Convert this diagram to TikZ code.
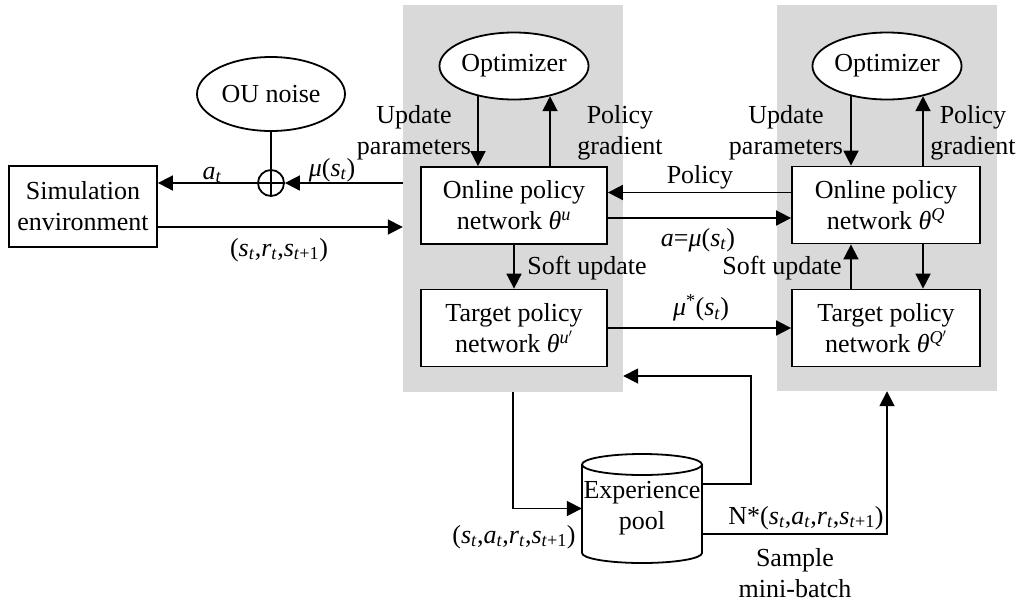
\documentclass[tikz,border=0pt]{standalone}
\usepackage{fontspec}
\IfFontExistsTF{LiberationSerif-Regular.ttf}{%
  \setmainfont{LiberationSerif-Regular.ttf}[ItalicFont=LiberationSerif-Italic.ttf, BoldFont=LiberationSerif-Bold.ttf, BoldItalicFont=LiberationSerif-BoldItalic.ttf]}{%
  \setmainfont{Liberation Serif}}
\usetikzlibrary{arrows.meta,shapes.geometric}
\definecolor{panelgray}{RGB}{217,217,217}
\newcommand\mi[1]{\textit{#1}}
\newcommand\sbs[1]{\textsubscript{#1}}
\begin{document}
\begin{tikzpicture}[x=1pt,y=-1pt,
  every node/.style={font=\rmfamily\fontsize{26}{31}\selectfont, inner sep=0pt},
  ln/.style={line width=1.8pt},
  arr/.style={ln,-{Triangle[length=15pt,width=15pt]}},
  panel/.style={fill=panelgray, minimum width=220pt},
  netbox/.style={draw, line width=1.8pt, fill=white, minimum width=186pt, minimum height=77pt, align=center},
  oval/.style={ellipse, draw, line width=1.8pt, fill=white},
  lbl/.style={align=center}]
\useasboundingbox (0,0) rectangle (1019,603);
% panels
\node[panel, minimum height=387pt] (pL) at (513,198.5) {};
\node[panel, minimum height=386pt] (pR) at (887,198) {};
% ellipses
\node[oval, minimum width=146pt, minimum height=67pt] (optL) at (514,66) {Optimizer};
\node[oval, minimum width=146pt, minimum height=67pt] (optR) at (887,66) {Optimizer};
\node[oval, minimum width=148pt, minimum height=74pt] (ou) at (271,94) {OU noise};
% boxes
\node[netbox] (onL) at (514,205.5) {Online policy\\network \mi{θ}\textsuperscript{\mi{u}}};
\node[netbox] (tgL) at (514,328) {Target policy\\network \mi{θ}\textsuperscript{\mi{u}$'$}};
\node[netbox, minimum width=188pt] (onR) at (886,205) {Online policy\\network \mi{θ}\textsuperscript{\mi{Q}}};
\node[netbox, minimum width=188pt] (tgR) at (886,328) {Target policy\\network \mi{θ}\textsuperscript{\mi{Q}$'$}};
\node[netbox, minimum width=148pt, minimum height=81pt] (sim) at (83,206.5) {Simulation\\environment};
% plus circle
\node[circle, draw, ln, minimum size=26pt] (plus) at (271,183) {};
\draw[ln] (plus.north) -- (plus.south);
\draw[ln] (plus.west) -- (plus.east);
% experience pool cylinder
\draw[ln, fill=white] (582,464.5) -- (582,553) arc[start angle=180, end angle=360, x radius=60pt, y radius=10pt] -- (702,464.5);
\draw[ln, fill=white] (642,464.5) ellipse[x radius=60pt, y radius=10.5pt];
\node[lbl, minimum width=120pt, minimum height=109pt] (pool) at (642,508.5) {Experience\\pool};
\coordinate (c1) at (751,376);
% connectors left
\draw[ln] (ou.south) -- (plus.north);
\draw[arr] (pL.west |- plus) -- (plus.east);
\draw[arr] (plus.west) -- (sim.east |- plus);
\draw[arr] ([yshift=-20.5pt]sim.east) -- ([yshift=-20.5pt]sim.east -| pL.west);
% optimizer arrows
\draw[arr] (optL.220) -- (optL.220 |- onL.north);
\draw[arr] (onL.north -| optL.320) -- (optL.320);
\draw[arr] (optR.220) -- (optR.220 |- onR.north);
\draw[arr] (onR.north -| optR.320) -- (optR.320);
% between networks
\draw[arr] ([yshift=12.5pt]onR.west) -- ([yshift=12.5pt]onR.west -| onL.east);
\draw[arr] ([yshift=-12.5pt]onL.east) -- ([yshift=-12.5pt]onL.east -| onR.west);
\draw[arr] (tgL.east) -- (tgL.east -| tgR.west);
\draw[arr] (onL.south) -- (tgL.north);
\draw[arr] (tgR.north -| optR.220) -- (onR.south -| optR.220);
\draw[arr] (onR.south -| optR.320) -- (tgR.north -| optR.320);
% pool connectors
\draw[arr] (pL.south) |- (pool.west);
\draw[arr] ([yshift=24.5pt]pool.east) -| (c1) -- (c1 -| pL.east);
\draw[arr] ([yshift=-25.5pt]pool.east) -| (pR.south);
% labels
\node[lbl] (lupdL) at (414,133) {Update\\parameters};
\node[lbl] (lpgL) at (620,133) {Policy\\gradient};
\node[lbl] (lupdR) at (786,133) {Update\\parameters};
\node[lbl] (lpgR) at (973,133) {Policy\\gradient};
\node (lpol) at (700,177) {Policy};
\node (la) at (698,240) {\mi{a}=\mi{μ}(\mi{s}\sbs{\mi{t}})};
\node (lsoftL) at (587,268) {Soft update};
\node (lmu) at (701,308) {\mi{μ}\textsuperscript{*}(\mi{s}\sbs{\mi{t}})};
\node (lsoftR) at (782,268) {Soft update};
\node (lat) at (212,175) {\mi{a}\sbs{\mi{t}}};
\node (lmus) at (332,170) {\mi{μ}(\mi{s}\sbs{\mi{t}})};
\node (lsrs) at (279,250) {(\mi{s}\sbs{\mi{t}},\mi{r}\sbs{\mi{t}},\mi{s}\sbs{\mi{t}+1})};
\node (lsars) at (514,537) {(\mi{s}\sbs{\mi{t}},\mi{a}\sbs{\mi{t}},\mi{r}\sbs{\mi{t}},\mi{s}\sbs{\mi{t}+1})};
\node (lN) at (806,518) {N*(\mi{s}\sbs{\mi{t}},\mi{a}\sbs{\mi{t}},\mi{r}\sbs{\mi{t}},\mi{s}\sbs{\mi{t}+1})};
\node[lbl] (lsamp) at (795,573) {Sample\\mini-batch};
\end{tikzpicture}
\end{document}
